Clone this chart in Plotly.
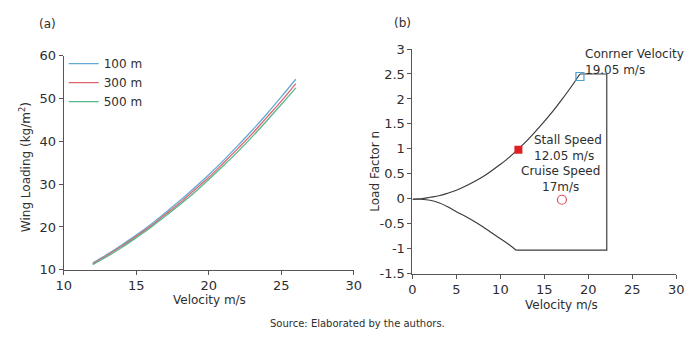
import plotly.graph_objects as go

# ---------------- data (a): wing loading vs velocity ----------------
velocity_a = [12, 13, 14, 15, 16, 17, 18, 19, 20, 21, 22, 23, 24, 25, 26]
wl_100 = [11.6, 13.6, 15.8, 18.1, 20.6, 23.3, 26.1, 29.1, 32.2, 35.5, 39.0, 42.6, 46.4, 50.4, 54.5]
wl_300 = [11.4, 13.4, 15.5, 17.8, 20.2, 22.9, 25.6, 28.6, 31.6, 34.9, 38.3, 41.8, 45.6, 49.4, 53.5]
wl_500 = [11.2, 13.1, 15.2, 17.5, 19.9, 22.5, 25.2, 28.0, 31.1, 34.3, 37.6, 41.1, 44.8, 48.6, 52.5]
series_names = ["100 m", "300 m", "500 m"]

# ---------------- data (b): V-n diagram ----------------
upper_v = [0, 1, 2, 3, 4, 5, 6, 7, 8, 9, 10, 11, 12.05, 13, 14, 15, 16, 17, 18, 19.05]
upper_n = [-0.01, 0.0, 0.03, 0.06, 0.11, 0.17, 0.25, 0.34, 0.44, 0.56, 0.69, 0.83, 1.0,
           1.16, 1.35, 1.55, 1.76, 1.99, 2.23, 2.5]
lower_v = [0, 1, 2, 3, 4, 5, 6, 7, 8, 9, 10, 11, 11.8]
lower_n = [-0.01, -0.01, -0.03, -0.08, -0.16, -0.26, -0.35, -0.45, -0.56, -0.68, -0.8, -0.92, -1.03]
v_corner = 19.05
v_dive = 22.1
v_neg = 11.8
n_max = 2.5
n_min = -1.03

stall_v, stall_n = 12.05, 0.98
corner_v, corner_n = 19.05, 2.45
cruise_v, cruise_n = 17.0, -0.02

xa_ticks = [10, 15, 20, 25, 30]
ya_ticks = [10, 20, 30, 40, 50, 60]
xb_ticks = [0, 5, 10, 15, 20, 25, 30]
yb_ticks = [-1.5, -1, -0.5, 0, 0.5, 1, 1.5, 2, 2.5, 3]
yb_labels = ["-1.5", "-1", "-0.5", "0", "0.5", "1", "1.5", "2", "2.5", "3"]

W, H = 694, 338
FONT = "DejaVu Sans"
TXT = "#2e2e2e"
AX = "#555555"

fig = go.Figure()

colors = ["#62a9d6", "#e0646c", "#55b98c"]
for name, vals, c in zip(series_names, [wl_100, wl_300, wl_500], colors):
    fig.add_trace(go.Scatter(x=velocity_a, y=vals, mode="lines", name=name,
                             line=dict(color=c, width=1.3, shape="spline"),
                             xaxis="x", yaxis="y"))

curve_line = dict(color="#3c3c3c", width=1.2)
fig.add_trace(go.Scatter(x=upper_v, y=upper_n, mode="lines", showlegend=False,
                         line=dict(curve_line, shape="spline"), xaxis="x2", yaxis="y2"))
fig.add_trace(go.Scatter(x=lower_v, y=lower_n, mode="lines", showlegend=False,
                         line=dict(curve_line, shape="spline"), xaxis="x2", yaxis="y2"))
fig.add_trace(go.Scatter(x=[v_corner, v_dive, v_dive, v_neg], y=[n_max, n_max, n_min, n_min],
                         mode="lines", showlegend=False, line=curve_line,
                         xaxis="x2", yaxis="y2"))
fig.add_trace(go.Scatter(x=[stall_v], y=[stall_n], mode="markers", showlegend=False,
                         marker=dict(symbol="square", size=8, color="#e01e26"),
                         xaxis="x2", yaxis="y2"))
fig.add_trace(go.Scatter(x=[corner_v], y=[corner_n], mode="markers", showlegend=False,
                         marker=dict(symbol="square-open", size=8, color="#4aa0d0",
                                     line=dict(width=1.2)),
                         xaxis="x2", yaxis="y2"))
fig.add_trace(go.Scatter(x=[cruise_v], y=[cruise_n], mode="markers", showlegend=False,
                         marker=dict(symbol="circle-open", size=9, color="#e0505a",
                                     line=dict(width=1.2)),
                         xaxis="x2", yaxis="y2"))

axis_common = dict(showgrid=False, zeroline=False, showline=True, linecolor=AX,
                   linewidth=1, ticks="outside", ticklen=4, tickcolor=AX, tickwidth=1,
                   tickfont=dict(family=FONT, size=13, color=TXT))

def py(px):
    return 1 - px / H

fig.update_layout(
    width=W, height=H, margin=dict(l=0, r=0, t=0, b=0),
    paper_bgcolor="white", plot_bgcolor="white",
    font=dict(family=FONT, color=TXT),
    xaxis=dict(axis_common, range=[10, 30], tickvals=xa_ticks,
               domain=[57 / W, 354 / W], anchor="y"),
    yaxis=dict(axis_common, range=[10, 60], tickvals=ya_ticks,
               domain=[py(275), py(51)], anchor="x"),
    xaxis2=dict(axis_common, range=[0, 30], tickvals=xb_ticks,
                domain=[414 / W, 684 / W], anchor="y2"),
    yaxis2=dict(axis_common, range=[-1.5, 3], tickvals=yb_ticks, ticktext=yb_labels,
                domain=[py(279), py(44)], anchor="x2"),
    legend=dict(x=57 / W, y=py(44), xanchor="left", yanchor="top",
                bgcolor="rgba(0,0,0,0)", font=dict(family=FONT, size=12, color=TXT),
                tracegroupgap=0, itemwidth=30),
    showlegend=True,
)

ann = []
def add_text(text, x, y, xref="paper", yref="paper", size=12, xanchor="center",
             yanchor="middle", angle=0, align="center"):
    ann.append(dict(text=text, x=x, y=y, xref=xref, yref=yref, showarrow=False,
                    font=dict(family=FONT, size=size, color=TXT), xanchor=xanchor,
                    yanchor=yanchor, textangle=angle, align=align))

add_text("(a)", 30 / W, py(18), xanchor="left", size=12)
add_text("(b)", 393 / W, py(17), xanchor="left", size=12)
add_text("Velocity m/s", 206 / W, py(307), size=12)
add_text("Velocity m/s", 567 / W, py(312), size=12)
add_text("Wing Loading (kg/m<sup>2</sup>)", 17 / W, py(168), angle=-90, size=12)
add_text("Load Factor n", 376 / W, py(172), angle=-90, size=12)
add_text("Source: Elaborated by the authors.", 358 / W, py(331), size=10)

add_text("Conrner Velocity<br>19.05 m/s", 19.4, 2.74, xref="x2", yref="y2",
         xanchor="left", align="left")
add_text("Stall Speed<br>12.05 m/s", 13.6, 1.02, xref="x2", yref="y2",
         xanchor="left", align="left")
add_text("Cruise Speed<br>17m/s", 16.8, 0.39, xref="x2", yref="y2")

fig.update_layout(annotations=ann)
fig.write_html("out.html")
